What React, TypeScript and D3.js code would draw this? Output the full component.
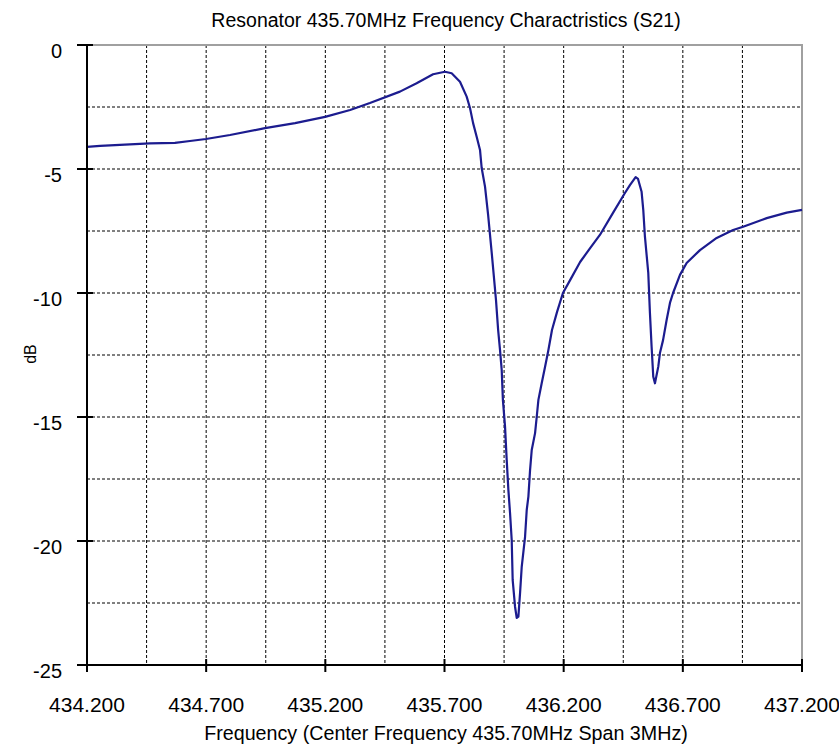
import { useEffect, useRef } from 'react';
import * as d3 from 'd3';

// S21 trace (MHz, dB)
const freqMHz = [
  434.200, 434.255, 434.380, 434.464, 434.569, 434.632, 434.699, 434.800, 434.947, 435.073,
  435.199, 435.304, 435.387, 435.513, 435.583, 435.652, 435.702, 435.730, 435.765, 435.793,
  435.807, 435.820, 435.835, 435.849, 435.856, 435.870, 435.883, 435.899, 435.916, 435.925,
  435.933, 435.940, 435.945, 435.954, 435.961, 435.968, 435.975, 435.982, 435.986, 435.996,
  436.003, 436.010, 436.017, 436.024, 436.038, 436.045, 436.052, 436.059, 436.066, 436.080,
  436.087, 436.094, 436.108, 436.122, 436.136, 436.151, 436.172, 436.197, 436.227, 436.269,
  436.311, 436.352, 436.407, 436.457, 436.478, 436.502, 436.512, 436.527, 436.534, 436.541,
  436.555, 436.562, 436.569, 436.576, 436.583, 436.597, 436.604, 436.617, 436.632, 436.646,
  436.659, 436.688, 436.716, 436.772, 436.842, 436.911, 436.953, 437.052, 437.136, 437.200,
];
const s21dB = [
  -4.11, -4.07, -4.01, -3.97, -3.95, -3.87, -3.79, -3.63, -3.35, -3.15,
  -2.90, -2.62, -2.34, -1.88, -1.54, -1.18, -1.08, -1.14, -1.48, -2.08,
  -2.54, -3.15, -3.70, -4.23, -4.96, -5.71, -6.85, -8.47, -10.28, -11.49,
  -12.30, -13.10, -14.31, -15.39, -16.73, -17.94, -18.87, -19.96, -21.57, -22.65,
  -23.10, -23.05, -22.10, -21.04, -19.83, -18.75, -18.21, -17.14, -16.33, -15.65,
  -14.99, -14.31, -13.63, -12.97, -12.30, -11.49, -10.77, -10.00, -9.48, -8.75,
  -8.19, -7.66, -6.77, -5.97, -5.65, -5.33, -5.40, -5.92, -6.65, -7.73,
  -9.19, -10.81, -12.17, -13.38, -13.64, -12.97, -12.42, -11.90, -11.09, -10.40,
  -10.00, -9.27, -8.79, -8.27, -7.78, -7.46, -7.33, -6.98, -6.76, -6.65,
];

const xTicks = [434.2, 434.7, 435.2, 435.7, 436.2, 436.7, 437.2];
const xGrid = [434.45, 434.7, 434.95, 435.2, 435.45, 435.7, 435.95, 436.2, 436.45, 436.7, 436.95];
const yTicks = [0, -5, -10, -15, -20, -25];
const yGrid = [-2.5, -5, -7.5, -10, -12.5, -15, -17.5, -20, -22.5];

const title = 'Resonator 435.70MHz Frequency Charactristics (S21)';
const xTitle = 'Frequency (Center Frequency 435.70MHz Span 3MHz)';
const yTitle = 'dB';

export default function App() {
  const ref = useRef<SVGSVGElement>(null);

  useEffect(() => {
    if (!ref.current) return;
    const svg = d3.select(ref.current);
    svg.selectAll('*').remove();

    const left = 87, right = 802, top = 45, bottom = 665;
    const font = '"Liberation Sans", Arial, sans-serif';

    const x = d3.scaleLinear().domain([434.2, 437.2]).range([left, right]);
    const y = d3.scaleLinear().domain([0, -25]).range([top, bottom]);

    // dashed grid
    svg.append('g')
      .selectAll('line')
      .data(xGrid)
      .join('line')
      .attr('x1', d => x(d)).attr('x2', d => x(d))
      .attr('y1', top).attr('y2', bottom)
      .attr('stroke', '#000').attr('stroke-width', 1).attr('stroke-dasharray', '3,2');

    svg.append('g')
      .selectAll('line')
      .data(yGrid)
      .join('line')
      .attr('x1', left).attr('x2', right)
      .attr('y1', d => y(d)).attr('y2', d => y(d))
      .attr('stroke', '#000').attr('stroke-width', 1).attr('stroke-dasharray', '3,2');

    // gray top / right frame
    svg.append('path')
      .attr('d', `M${left},${top}H${right}V${bottom}`)
      .attr('fill', 'none').attr('stroke', '#a0a0a0').attr('stroke-width', 2);

    // trace
    const pts = freqMHz.map((f, i) => [f, s21dB[i]] as [number, number]);
    const line = d3.line<[number, number]>()
      .x(d => x(d[0]))
      .y(d => y(d[1]));
    svg.append('path')
      .datum(pts)
      .attr('fill', 'none')
      .attr('stroke', '#1c1c8f')
      .attr('stroke-width', 2.2)
      .attr('stroke-linejoin', 'round')
      .attr('d', line);

    // axes
    svg.append('line')
      .attr('x1', left).attr('x2', left).attr('y1', top).attr('y2', bottom)
      .attr('stroke', '#000').attr('stroke-width', 2);
    svg.append('line')
      .attr('x1', left).attr('x2', right).attr('y1', bottom).attr('y2', bottom)
      .attr('stroke', '#000').attr('stroke-width', 2);

    svg.append('g')
      .selectAll('line')
      .data(yTicks)
      .join('line')
      .attr('x1', left - 10).attr('x2', left + 6)
      .attr('y1', d => y(d)).attr('y2', d => y(d))
      .attr('stroke', '#000').attr('stroke-width', 2);

    svg.append('g')
      .selectAll('line')
      .data(xTicks)
      .join('line')
      .attr('x1', d => x(d)).attr('x2', d => x(d))
      .attr('y1', bottom - 6).attr('y2', bottom + 7)
      .attr('stroke', '#000').attr('stroke-width', 2);

    svg.append('g')
      .selectAll('text')
      .data(yTicks)
      .join('text')
      .attr('x', 62).attr('y', d => y(d) + 12.5)
      .attr('text-anchor', 'end')
      .attr('font-family', font).attr('font-size', 20)
      .text(d => String(d));

    svg.append('g')
      .selectAll('text')
      .data(xTicks)
      .join('text')
      .attr('x', d => x(d)).attr('y', 712)
      .attr('text-anchor', 'middle')
      .attr('font-family', font).attr('font-size', 21)
      .text(d => d.toFixed(3));

    svg.append('text')
      .attr('x', 446).attr('y', 27)
      .attr('text-anchor', 'middle')
      .attr('font-family', font).attr('font-size', 19.5)
      .text(title);

    svg.append('text')
      .attr('x', 446).attr('y', 740)
      .attr('text-anchor', 'middle')
      .attr('font-family', font).attr('font-size', 19.7)
      .text(xTitle);

    svg.append('text')
      .attr('transform', `translate(36,354) rotate(-90)`)
      .attr('text-anchor', 'middle')
      .attr('font-family', font).attr('font-size', 16)
      .text(yTitle);
  }, []);

  return (
    <svg
      ref={ref}
      width={839}
      height={747}
      style={{ position: 'absolute', left: 0, top: 0, background: '#fff' }}
    />
  );
}
